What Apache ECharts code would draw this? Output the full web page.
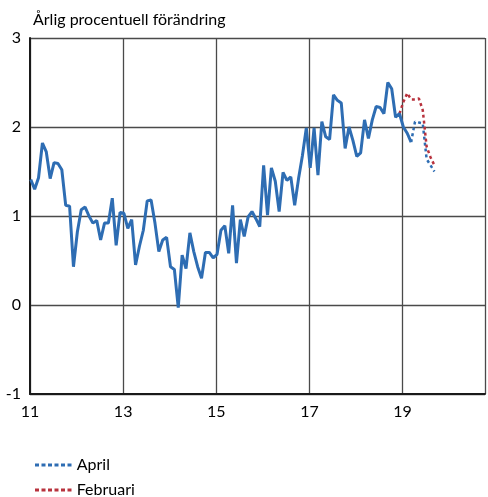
<!DOCTYPE html>
<html>
<head>
    <meta charset="utf-8">
    <script src="https://cdn.jsdelivr.net/npm/echarts@6/dist/echarts.min.js"></script>
</head>
<body style="margin:0">
    <div id="main" style="width:488px; height:497px"></div>
    <script type="text/javascript">
        // Monthly outcome, Jan 2011 - Mar 2019 (annual % change)
        var outcome = [
            1.41, 1.30, 1.43, 1.82, 1.72, 1.42, 1.60, 1.59, 1.52, 1.12, 1.11, 0.43,
            0.82, 1.07, 1.10, 1.00, 0.92, 0.95, 0.73, 0.92, 0.92, 1.20, 0.67, 1.04,
            1.03, 0.86, 0.96, 0.45, 0.66, 0.84, 1.17, 1.18, 0.92, 0.60, 0.73, 0.76,
            0.43, 0.40, -0.03, 0.56, 0.41, 0.81, 0.60, 0.43, 0.30, 0.59, 0.59, 0.53,
            0.57, 0.84, 0.89, 0.58, 1.12, 0.47, 0.96, 0.77, 0.99, 1.05, 0.97, 0.88,
            1.57, 1.01, 1.54, 1.39, 1.05, 1.49, 1.40, 1.44, 1.12, 1.42, 1.68, 1.99,
            1.54, 1.99, 1.46, 2.06, 1.89, 1.86, 2.36, 2.30, 2.27, 1.76, 2.00, 1.85,
            1.67, 1.71, 2.08, 1.87, 2.08, 2.23, 2.22, 2.15, 2.50, 2.43, 2.11, 2.15,
            2.00, 1.93, 1.83
        ];
        // Forecasts, start month index counted from Jan 2011
        var aprilStart = 98;
        var april = [1.83, 2.06, 2.05, 2.04, 1.64, 1.57, 1.50];
        var februariStart = 95;
        var februari = [2.15, 2.28, 2.38, 2.31, 2.31, 2.32, 2.19, 1.78, 1.66, 1.57];
        var xTicks = [11, 13, 15, 17, 19];

        function toPairs(values, start) {
            return values.map(function (v, i) {
                return [11 + (start + i + 0.2) / 12, v];
            });
        }

        var font = 'Lato, "Noto Sans", sans-serif';
        var blue = '#2e6db3';
        var red = '#b8323d';
        // dotted legend icon
        var dotIcon = 'path://M0,0h4v3h-4z M6.5,0h4v3h-4z M13,0h4v3h-4z M19.5,0h4v3h-4z M26,0h4v3h-4z M32.5,0h4v3h-4z';

        function legendAt(name, top) {
            return {
                left: 30,
                top: top,
                icon: dotIcon,
                itemWidth: 37,
                itemHeight: 3,
                textStyle: { fontSize: 16, color: '#000', fontFamily: font },
                data: [name]
            };
        }

        var myChart = echarts.init(document.getElementById('main'));
        var option = {
            animation: false,
            textStyle: { fontFamily: font },
            title: {
                text: 'Årlig procentuell förändring',
                left: 28,
                top: 7,
                textStyle: { fontSize: 16, fontWeight: 'normal', color: '#000', fontFamily: font }
            },
            legend: [legendAt('April', 452), legendAt('Februari', 477)],
            grid: {
                left: 30,
                right: 0,
                top: 38,
                bottom: 103
            },
            xAxis: {
                type: 'value',
                min: 11,
                max: 20.77,
                interval: 2,
                axisLine: { show: true, onZero: false, lineStyle: { color: '#1a1a1a', width: 2 } },
                axisTick: { show: false },
                axisLabel: {
                    fontSize: 16, color: '#000', margin: 10, fontFamily: font,
                    formatter: function (v) { return xTicks.indexOf(v) >= 0 ? String(v) : ''; }
                },
                splitLine: { show: true, lineStyle: { color: '#4a4a4a', width: 1.3 } }
            },
            yAxis: {
                type: 'value',
                min: -1,
                max: 3,
                interval: 1,
                axisLine: { show: true, lineStyle: { color: '#1a1a1a', width: 2 } },
                axisTick: { show: false },
                axisLabel: { fontSize: 16, color: '#000', margin: 9, fontFamily: font },
                splitLine: { show: true, lineStyle: { color: '#4a4a4a', width: 1.3 } }
            },
            series: [
                {
                    name: 'Utfall',
                    type: 'line',
                    symbol: 'none',
                    z: 3,
                    lineStyle: { color: blue, width: 3 },
                    data: toPairs(outcome, 0)
                },
                {
                    name: 'April',
                    type: 'line',
                    symbol: 'none',
                    z: 2,
                    itemStyle: { color: blue },
                    lineStyle: { color: blue, width: 2.5, type: [3, 3] },
                    data: toPairs(april, aprilStart)
                },
                {
                    name: 'Februari',
                    type: 'line',
                    symbol: 'none',
                    z: 2,
                    itemStyle: { color: red },
                    lineStyle: { color: red, width: 2.5, type: [3, 3] },
                    data: toPairs(februari, februariStart)
                }
            ]
        };
        myChart.setOption(option);
    </script>
</body>
</html>
